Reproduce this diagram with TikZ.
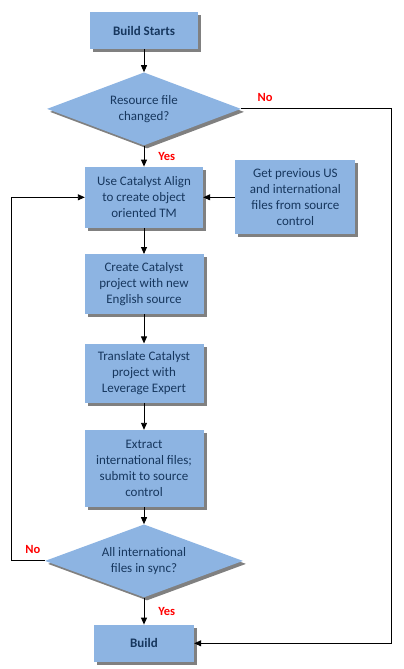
\documentclass[tikz,border=0pt]{standalone}
\usepackage{fontspec}
\setmainfont{Carlito}
\usepackage{tikz}
\usetikzlibrary{
	positioning,
	shapes.geometric,
	shadows,
	arrows.meta
}
\definecolor{boxblue}{HTML}{8DB4E2}
\definecolor{textblue}{HTML}{17375E}

\begin{document}
\begin{tikzpicture}[
		x=1pt, y=1pt,
		node distance=25pt,
		font=\fontsize{13}{16}\selectfont,
		flow/.style={draw=none, fill=boxblue, text=textblue, align=center, inner sep=0pt,
			drop shadow={shadow xshift=3pt, shadow yshift=-3pt, fill=black!50, opacity=1}},
		proc/.style={flow, rectangle, minimum width=119pt, minimum height=60pt},
		decide/.style={flow, diamond, shape aspect=2.6, minimum width=194pt, minimum height=73pt},
		bold/.style={font=\fontsize{13}{16}\selectfont\bfseries},
		answer/.style={text=red, inner sep=0pt, font=\fontsize{12.5}{14}\selectfont\bfseries},
		arr/.style={-{Triangle[length=7pt,width=6pt]}, line width=0.9pt}
	]
	\useasboundingbox (0,0) rectangle (404,-669);

	\node[proc, bold, minimum width=108pt, minimum height=37pt] (start) at (144,-30.5) {Build Starts};
	\node[decide, below=23pt of start] (changed) {Resource file\\changed?};
	\node[proc, below=21pt of changed, minimum width=118pt, minimum height=61pt] (align) {Use Catalyst Align\\to create object\\oriented TM};
	\node[proc, right=32pt of align, minimum width=120pt, minimum height=74pt] (getfiles) {Get previous US\\and international\\files from source\\control};
	\node[proc, below=26pt of align] (project) {Create Catalyst\\project with new\\English source};
	\node[proc, below=29pt of project, minimum height=59pt] (translate) {Translate Catalyst\\project with\\Leverage Expert};
	\node[proc, below=27pt of translate, minimum height=77pt] (extract) {Extract\\international files;\\submit to source\\control};
	\node[decide, below=17pt of extract, minimum width=198pt] (insync) {All international\\files in sync?};
	\node[proc, bold, below=27pt of insync, minimum width=100pt, minimum height=37pt] (build) {Build};

	% main column
	\draw[arr] (start) -- (changed);
	\draw[arr] (changed) -- node[answer, right=14pt] {Yes} (align);
	\draw[arr] (getfiles) -- (align);
	\draw[arr] (align) -- (project);
	\draw[arr] (project) -- (translate);
	\draw[arr] (translate) -- (extract);
	\draw[arr] (extract) -- (insync);
	\draw[arr] (insync) -- node[answer, right=14pt] {Yes} (build);

	% loops
	\draw[arr] (changed.east) node[answer, anchor=south west, xshift=16pt, yshift=7pt] {No}
		-- ++(150,0) |- (build.east);
	\draw[arr] (insync.west) node[answer, anchor=south east, xshift=-4pt, yshift=7pt] {No}
		-- ++(-33,0) |- (align.west);
\end{tikzpicture}
\end{document}
